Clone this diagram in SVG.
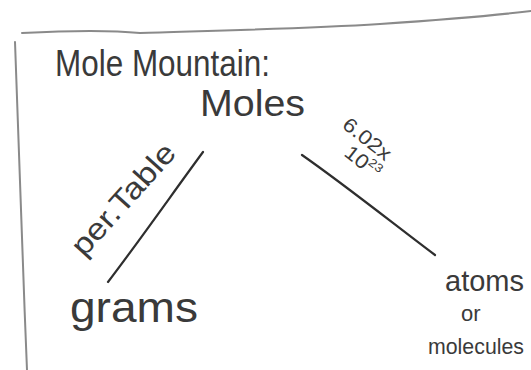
<svg xmlns="http://www.w3.org/2000/svg" width="531" height="370" viewBox="0 0 531 370">
<style>
.t{font-family:"Liberation Sans","DejaVu Sans",sans-serif;fill:#3a3a3a;font-weight:normal}
.border{fill:none;stroke:#8a8a8a;stroke-width:2;stroke-linecap:round}
.edge{fill:none;stroke:#2e2e2e;stroke-width:2.2;stroke-linecap:round}
</style>
<rect width="531" height="370" fill="#ffffff"/>
<g id="frame">
<path class="border" d="M22,33 C60,31 110,30 140,33 C200,31 300,29 380,24 C440,20 490,16 531,11"/>
<path class="border" d="M15,42 C18,120 22,250 27,370"/>
</g>
<g id="title"><text class="t" x="55" y="76" font-size="36" textLength="215" lengthAdjust="spacingAndGlyphs">Mole Mountain:</text></g>
<g id="moles"><text class="t" x="200" y="116" font-size="36" textLength="105" lengthAdjust="spacingAndGlyphs">Moles</text></g>
<g id="grams"><text class="t" x="70" y="322" font-size="42" textLength="128" lengthAdjust="spacingAndGlyphs">grams</text></g>
<g id="atoms">
<text class="t" x="445" y="291" font-size="29">atoms</text>
<text class="t" x="461" y="321" font-size="22">or</text>
<text class="t" x="428" y="354" font-size="22" textLength="96" lengthAdjust="spacingAndGlyphs">molecules</text>
</g>
<g id="connectors">
<path class="edge" d="M108,282 C140,240 175,190 203,152"/>
<path class="edge" d="M302,155 C345,185 395,225 435,255"/>
<text class="t" transform="translate(84,258) rotate(-48)" font-size="30" textLength="140" lengthAdjust="spacingAndGlyphs">per.Table</text>
<text class="t" transform="translate(341,127) rotate(38)" font-size="20" textLength="56" lengthAdjust="spacingAndGlyphs">6.02x</text>
<text class="t" transform="translate(343,155) rotate(38)" font-size="20" textLength="40" lengthAdjust="spacingAndGlyphs">10<tspan font-size="12" dy="-8">23</tspan></text>
</g>
</svg>
